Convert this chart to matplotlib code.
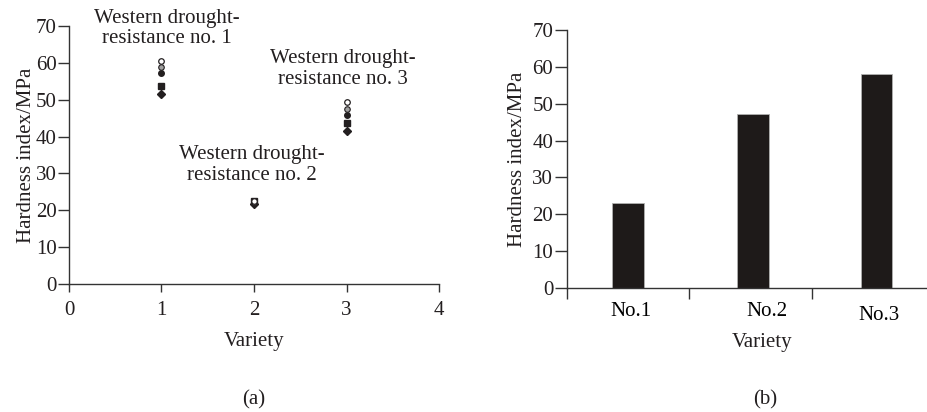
import matplotlib
matplotlib.use("Agg")
import matplotlib.pyplot as plt
from matplotlib.transforms import ScaledTranslation

plt.rcParams["font.family"] = ["Liberation Serif", "DejaVu Serif"]
plt.rcParams["font.size"] = 15

# panel (a): hardness of each variety, five repeats
varieties = [1, 2, 3]
open_circle = [60.5, 22.4, 49.5]
gray_circle = [59.0, 22.2, 47.5]
black_circle = [57.2, 22.0, 45.9]
black_square = [53.7, 22.5, 43.6]
black_diamond = [51.5, 21.8, 41.5]
variety_notes = ["Western drought-\nresistance no. 1",
                 "Western drought-\nresistance no. 2",
                 "Western drought-\nresistance no. 3"]

# panel (b): mean hardness
bar_labels = ["No.1", "No.2", "No.3"]
bar_values = [23.0, 47.1, 58.2]

ink = "#231f20"
axis_col = "#333333"

fig = plt.figure(figsize=(9.27, 4.12), dpi=100)

def style_axes(ax):
    for side in ["top", "right"]:
        ax.spines[side].set_visible(False)
    for side in ["left", "bottom"]:
        ax.spines[side].set_color(axis_col)
        ax.spines[side].set_linewidth(1.0)
    ax.tick_params(colors=axis_col, labelcolor=ink, width=1.0)

# ---- (a) ----
ax1 = fig.add_axes([0.0744, 0.3107, 0.3992, 0.6262])
ax1.plot(varieties, black_diamond, "D", color=ink, ms=3.8, ls="none")
ax1.plot(varieties, black_square, "s", color=ink, ms=4.4, ls="none")
ax1.plot(varieties, black_circle, "o", color=ink, ms=4.0, ls="none")
ax1.plot(varieties, gray_circle, "o", mfc="#a0a0a0", mec=ink, mew=0.8, ms=4.0, ls="none")
ax1.plot(varieties, open_circle, "o", mfc="white", mec=ink, mew=0.9, ms=4.0, ls="none")

note_pos = [(1.06, 69.3), (1.98, 32.3), (2.96, 58.3)]
for (nx, ny), note in zip(note_pos, variety_notes):
    ax1.text(nx, ny, note, ha="center", va="center", color=ink,
             linespacing=1.12, clip_on=False)

ax1.set_xlim(0, 4)
ax1.set_ylim(0, 70)
ax1.set_xticks([0, 1, 2, 3, 4])
ax1.set_yticks(range(0, 71, 10))
style_axes(ax1)
ax1.tick_params(axis="y", length=8, pad=1)
ax1.tick_params(axis="x", length=6, pad=6)
ax1.set_xlabel("Variety", color=ink, labelpad=9)
ax1.set_ylabel("Hardness index/MPa", color=ink, labelpad=0)
fig.text(0.2740, 0.030, "(a)", ha="center", va="center", color=ink)

# ---- (b) ----
ax2 = fig.add_axes([0.6117, 0.301, 0.3959, 0.626])
centers = [0.5, 1.52, 2.53]
ax2.bar(centers, bar_values, width=0.26, color="#1e1a19",
        edgecolor="#b0b0b0", linewidth=0.6)
ax2.set_xlim(0, 3)
ax2.set_ylim(0, 70)
ax2.set_yticks(range(0, 71, 10))
ax2.set_xticks([0, 1, 2, 3])
ax2.set_xticklabels([])
ax2.set_xticks([0.52, 1.63, 2.55], minor=True)
ax2.set_xticklabels(bar_labels, minor=True)
style_axes(ax2)
ax2.tick_params(axis="y", length=9, pad=1)
ax2.tick_params(axis="x", which="major", length=8)
ax2.tick_params(axis="x", which="minor", length=0, pad=10)
lab3 = ax2.get_xticklabels(minor=True)[2]
lab3.set_transform(lab3.get_transform() + ScaledTranslation(0, -4 / 100, fig.dpi_scale_trans))
ax2.set_xlabel("Variety", color=ink, labelpad=6)
ax2.xaxis.label.set_x(0.531)
ax2.set_ylabel("Hardness index/MPa", color=ink, labelpad=4)
fig.text(0.8252, 0.030, "(b)", ha="center", va="center", color=ink)

fig.savefig("out.png", dpi=100)
